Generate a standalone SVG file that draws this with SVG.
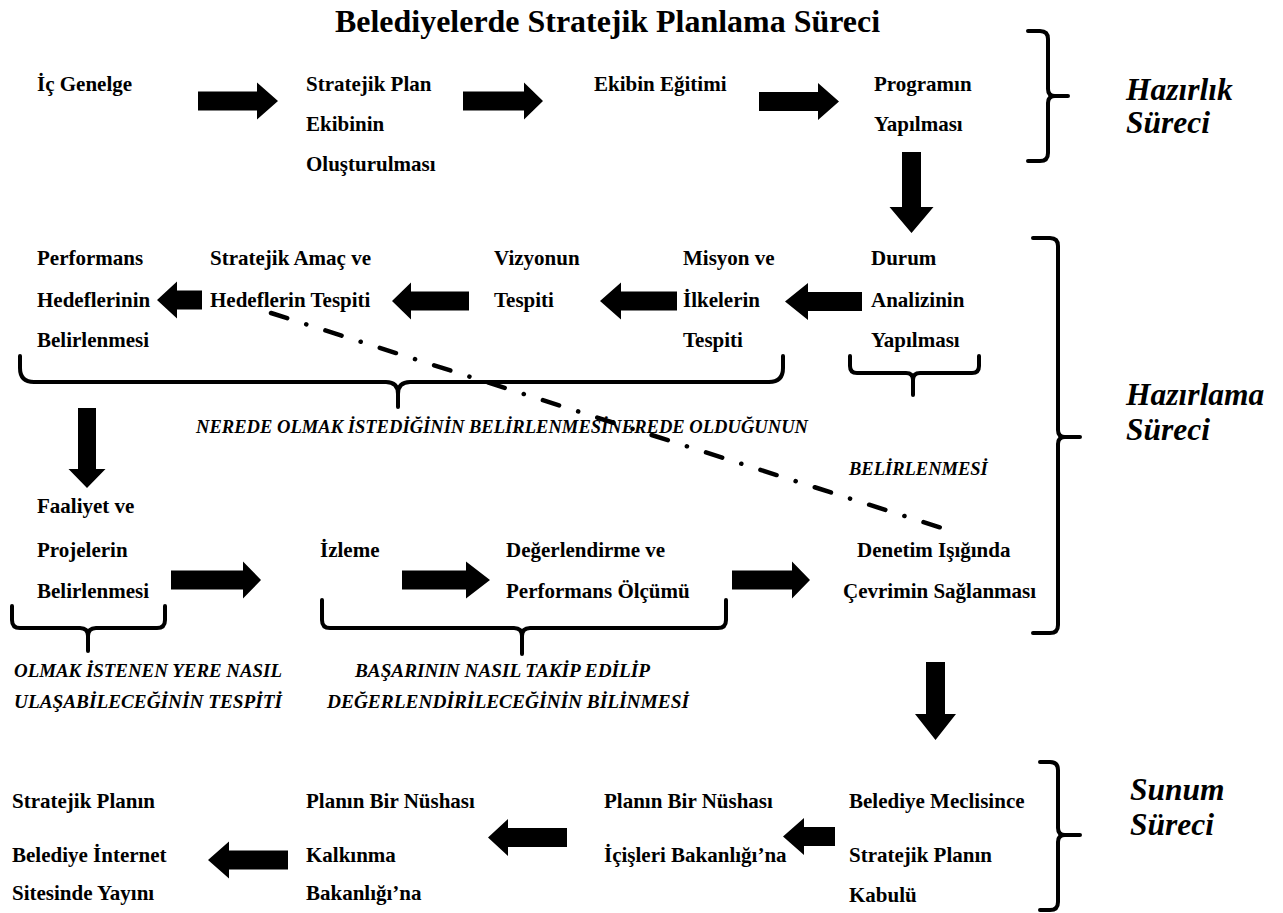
<svg xmlns="http://www.w3.org/2000/svg" width="1283" height="913" viewBox="0 0 1283 913">
<style>
.t{font-family:"Liberation Serif","Times New Roman",serif;font-weight:bold;font-size:21px;fill:#000}
.title{font-size:32px}
.lab{font-style:italic;font-size:18.5px}
.side{font-style:italic;font-size:31.5px}
.br{fill:none;stroke:#000;stroke-width:4;stroke-linecap:round;stroke-linejoin:round}
.arr{fill:#000}
.dd{fill:none;stroke:#000;stroke-width:4.5;stroke-linecap:round;stroke-dasharray:17 20 0.1 20}
</style>
<rect width="1283" height="913" fill="#fff"/>
<text class="t title" x="335" y="32" textLength="545" lengthAdjust="spacingAndGlyphs">Belediyelerde Stratejik Planlama Süreci</text>

<g id="n-ic-genelge"><text class="t" x="37" y="91">İç Genelge</text></g>
<g id="n-ekip"><text class="t" x="306" y="91">Stratejik Plan</text><text class="t" x="306" y="131">Ekibinin</text><text class="t" x="306" y="171">Oluşturulması</text></g>
<g id="n-egitim"><text class="t" x="594" y="91">Ekibin Eğitimi</text></g>
<g id="n-program"><text class="t" x="874" y="91">Programın</text><text class="t" x="874" y="131">Yapılması</text></g>

<g id="n-durum"><text class="t" x="871" y="265">Durum</text><text class="t" x="871" y="307">Analizinin</text><text class="t" x="871" y="347">Yapılması</text></g>
<g id="n-misyon"><text class="t" x="683" y="265">Misyon ve</text><text class="t" x="683" y="307">İlkelerin</text><text class="t" x="683" y="347">Tespiti</text></g>
<g id="n-vizyon"><text class="t" x="494" y="265">Vizyonun</text><text class="t" x="494" y="307">Tespiti</text></g>
<g id="n-amac"><text class="t" x="210" y="265">Stratejik Amaç ve</text><text class="t" x="210" y="307">Hedeflerin Tespiti</text></g>
<g id="n-performans"><text class="t" x="37" y="265">Performans</text><text class="t" x="37" y="307">Hedeflerinin</text><text class="t" x="37" y="347">Belirlenmesi</text></g>

<g id="n-faaliyet"><text class="t" x="37" y="513">Faaliyet ve</text><text class="t" x="37" y="557">Projelerin</text><text class="t" x="37" y="598">Belirlenmesi</text></g>
<g id="n-izleme"><text class="t" x="320" y="557">İzleme</text></g>
<g id="n-degerlendirme"><text class="t" x="506" y="557">Değerlendirme ve</text><text class="t" x="506" y="598">Performans Ölçümü</text></g>
<g id="n-denetim"><text class="t" x="857" y="557">Denetim Işığında</text><text class="t" x="843" y="598">Çevrimin Sağlanması</text></g>

<g id="n-meclis"><text class="t" x="849" y="808">Belediye Meclisince</text><text class="t" x="849" y="862">Stratejik Planın</text><text class="t" x="849" y="902">Kabulü</text></g>
<g id="n-icisleri"><text class="t" x="604" y="808">Planın Bir Nüshası</text><text class="t" x="604" y="862">İçişleri Bakanlığı’na</text></g>
<g id="n-kalkinma"><text class="t" x="306" y="808">Planın Bir Nüshası</text><text class="t" x="306" y="862">Kalkınma</text><text class="t" x="306" y="900">Bakanlığı’na</text></g>
<g id="n-internet"><text class="t" x="12" y="808">Stratejik Planın</text><text class="t" x="12" y="862">Belediye İnternet</text><text class="t" x="12" y="900">Sitesinde Yayını</text></g>

<g id="labels">
<text class="t lab" x="196" y="433" textLength="612" lengthAdjust="spacingAndGlyphs">NEREDE OLMAK İSTEDİĞİNİN BELİRLENMESİNEREDE OLDUĞUNUN</text>
<text class="t lab" x="849" y="475">BELİRLENMESİ</text>
<text class="t lab" x="14" y="677" textLength="268" lengthAdjust="spacingAndGlyphs">OLMAK İSTENEN YERE NASIL</text>
<text class="t lab" x="14" y="708" textLength="268" lengthAdjust="spacingAndGlyphs">ULAŞABİLECEĞİNİN TESPİTİ</text>
<text class="t lab" x="355" y="677" textLength="295" lengthAdjust="spacingAndGlyphs">BAŞARININ NASIL TAKİP EDİLİP</text>
<text class="t lab" x="327" y="708" textLength="362" lengthAdjust="spacingAndGlyphs">DEĞERLENDİRİLECEĞİNİN BİLİNMESİ</text>
</g>

<g id="phases">
<text class="t side" x="1126" y="100">Hazırlık</text><text class="t side" x="1126" y="133">Süreci</text>
<text class="t side" x="1126" y="405">Hazırlama</text><text class="t side" x="1126" y="440">Süreci</text>
<text class="t side" x="1130" y="800">Sunum</text><text class="t side" x="1130" y="835">Süreci</text>
</g>

<g id="braces">
<path class="br" d="M1028,31 L1040,31 Q1048,31 1048,39 L1048,89 Q1048,96 1055,96 L1068,96 M1055,96 Q1048,96 1048,103 L1048,153 Q1048,161 1040,161 L1028,161"/>
<path class="br" d="M1033,238 L1050,238 Q1058,238 1058,246 L1058,430 Q1058,437 1065,437 L1080,437 M1065,437 Q1058,437 1058,444 L1058,625 Q1058,633 1050,633 L1033,633"/>
<path class="br" d="M1040,762 L1050,762 Q1058,762 1058,770 L1058,828 Q1058,835 1065,835 L1080,835 M1065,835 Q1058,835 1058,842 L1058,902 Q1058,910 1050,910 L1040,910"/>
<path class="br" d="M20,356 L20,368 Q20,382 34,382 L386,382 Q398,382 398,394 L398,407 M398,394 Q398,382 410,382 L769,382 Q783,382 783,368 L783,356"/>
<path class="br" d="M850,356 L850,366 Q850,373 857,373 L906,373 Q913,373 913,380 L913,395 M913,380 Q913,373 920,373 L972,373 Q979,373 979,366 L979,356"/>
<path class="br" d="M12,606 L12,620 Q12,628 20,628 L80,628 Q88,628 88,636 L88,651 M88,636 Q88,628 96,628 L157,628 Q165,628 165,620 L165,606"/>
<path class="br" d="M322,600 L322,620 Q322,628 330,628 L514,628 Q522,628 522,636 L522,654 M522,636 Q522,628 530,628 L718,628 Q726,628 726,620 L726,600"/>
</g>

<g id="connectors">
<polygon class="arr" points="198,91.5 257,91.5 257,82.5 278,101 257,119.5 257,110.5 198,110.5"/>
<polygon class="arr" points="463,91.5 524,91.5 524,82.5 543,101 524,119.5 524,110.5 463,110.5"/>
<polygon class="arr" points="759,92 818,92 818,83 839,101.5 818,120 818,111 759,111"/>
<polygon class="arr" points="902,152 921,152 921,207 933.5,207 911.5,233 889.5,207 902,207"/>
<polygon class="arr" points="862,292 808,292 808,283 785,301.5 808,320 808,311 862,311"/>
<polygon class="arr" points="677,291.5 621,291.5 621,282.5 600,301 621,319.5 621,310.5 677,310.5"/>
<polygon class="arr" points="469,291.5 411,291.5 411,282.5 392,301 411,319.5 411,310.5 469,310.5"/>
<polygon class="arr" points="202,290.5 177,290.5 177,281.5 157,300 177,318.5 177,309.5 202,309.5"/>
<polygon class="arr" points="78,408 96,408 96,469 105.5,469 87,488 68.5,469 78,469"/>
<polygon class="arr" points="171,570.5 243,570.5 243,561.5 261,580 243,598.5 243,589.5 171,589.5"/>
<polygon class="arr" points="402,570.5 466,570.5 466,561.5 490,580 466,598.5 466,589.5 402,589.5"/>
<polygon class="arr" points="732,570.5 792,570.5 792,561.5 810,580 792,598.5 792,589.5 732,589.5"/>
<polygon class="arr" points="926,662 945,662 945,714 956,714 935.5,740 915,714 926,714"/>
<polygon class="arr" points="835,827 804,827 804,818 783,836.5 804,855 804,846 835,846"/>
<polygon class="arr" points="567,828 508,828 508,819 488,837.5 508,856 508,847 567,847"/>
<polygon class="arr" points="288,850.5 229,850.5 229,841.5 208,860 229,878.5 229,869.5 288,869.5"/>
<path class="dd" d="M271,313 L945,529"/>
</g>
</svg>
